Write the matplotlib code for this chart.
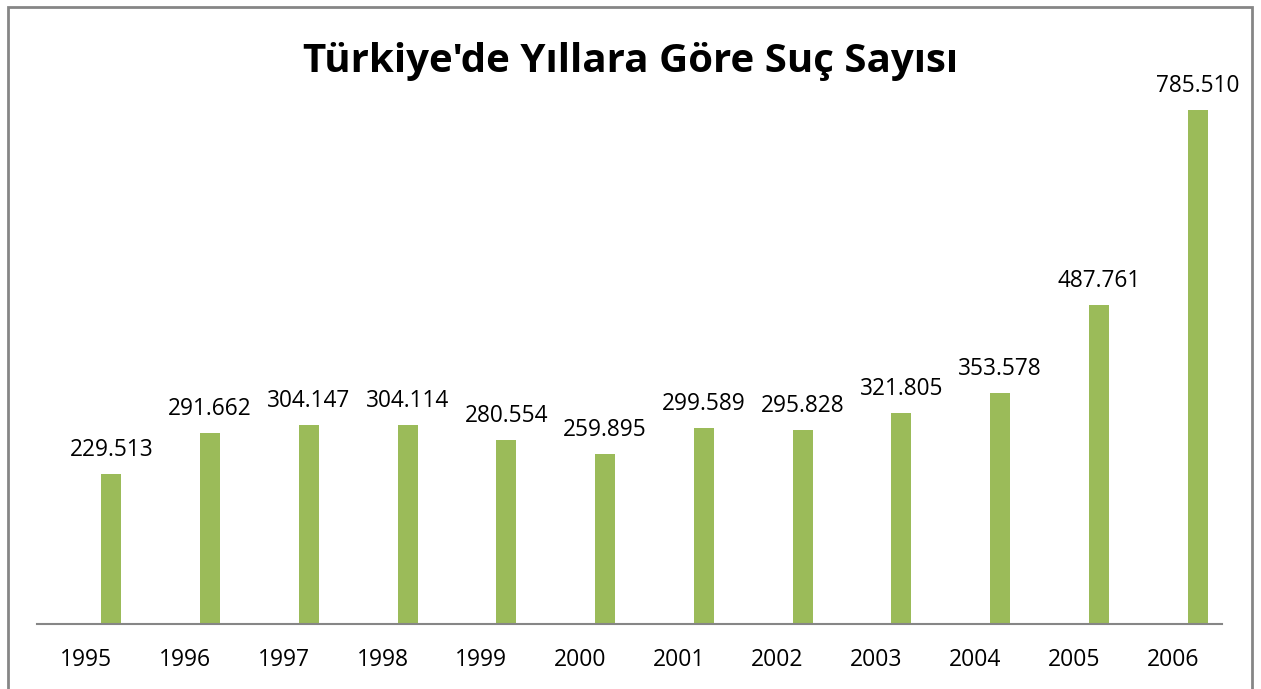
import matplotlib
matplotlib.use("Agg")
import matplotlib.pyplot as plt
from matplotlib.patches import Rectangle
import numpy as np

years = ["1995", "1996", "1997", "1998", "1999", "2000",
         "2001", "2002", "2003", "2004", "2005", "2006"]
crimes = [229513, 291662, 304147, 304114, 280554, 259895,
          299589, 295828, 321805, 353578, 487761, 785510]
labels = ["229.513", "291.662", "304.147", "304.114", "280.554", "259.895",
          "299.589", "295.828", "321.805", "353.578", "487.761", "785.510"]
title = "Türkiye'de Yıllara Göre Suç Sayısı"

W, H = 1261, 689
fig = plt.figure(figsize=(W / 100, H / 100), dpi=100)
fig.patch.set_facecolor("white")

ymax = 900000
k = 514 / 785510  # px per unit
top_px = 624 - ymax * k
ax = fig.add_axes([37 / W, (H - 624) / H, (1222 - 37) / W, (624 - top_px) / H])

x = np.arange(len(years))
bw = 20 / 98.75
off = 25 / 98.75
bars = ax.bar(x + off, crimes, width=bw, color="#9BBB59", edgecolor="none")
for xi, v, lab in zip(x, crimes, labels):
    ax.annotate(lab, (xi + off, v), xytext=(0, 13), textcoords="offset points",
                ha="center", va="baseline", fontsize=16.3, family="Open Sans",
                color="black")

ax.set_xlim(-0.5, len(years) - 0.5)
ax.set_ylim(0, ymax)
ax.set_xticks(x)
ax.set_xticklabels(years, fontsize=16.5, family="Open Sans")
ax.tick_params(axis="x", length=0, pad=17)
ax.set_yticks([])
for s in ["top", "right", "left"]:
    ax.spines[s].set_visible(False)
ax.spines["bottom"].set_color("#868686")
ax.spines["bottom"].set_linewidth(1.5)

fig.text(631 / W, 1 - 72 / H, title, ha="center", va="baseline",
         fontsize=29, fontweight="bold", family="Open Sans")

fig.patches.append(Rectangle((7.5 / W, -0.05), (1251.5 - 7.5) / W, 1.05 - 7 / H,
                             transform=fig.transFigure, fill=False,
                             edgecolor="#868686", linewidth=2))

fig.savefig("out.png", dpi=100)
